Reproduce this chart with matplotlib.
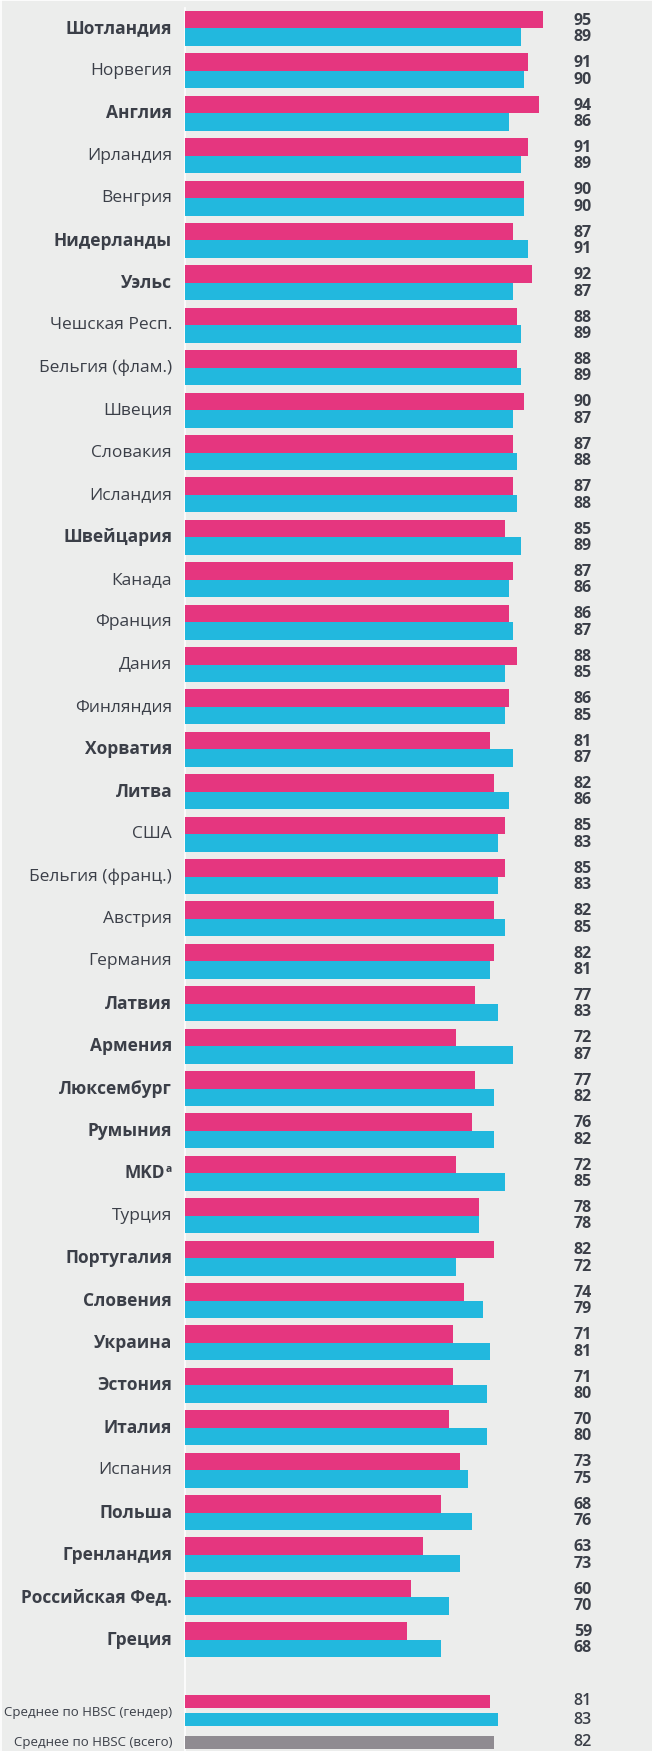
import matplotlib
matplotlib.use("Agg")
import matplotlib.pyplot as plt
from matplotlib.lines import Line2D

countries = ["Шотландия", "Норвегия", "Англия", "Ирландия", "Венгрия", "Нидерланды", "Уэльс",
             "Чешская Респ.", "Бельгия (флам.)", "Швеция", "Словакия", "Исландия", "Швейцария",
             "Канада", "Франция", "Дания", "Финляндия", "Хорватия", "Литва", "США",
             "Бельгия (франц.)", "Австрия", "Германия", "Латвия", "Армения", "Люксембург",
             "Румыния", "MKD", "Турция", "Португалия", "Словения", "Украина", "Эстония",
             "Италия", "Испания", "Польша", "Гренландия", "Российская Фед.", "Греция"]
bold = [True, False, True, False, False, True, True,
        False, False, False, False, False, True,
        False, False, False, False, True, True, False,
        False, False, False, True, True, True,
        True, True, False, True, True, True, True,
        True, False, True, True, True, True]
girls = [95, 91, 94, 91, 90, 87, 92, 88, 88, 90, 87, 87, 85, 87, 86, 88, 86, 81, 82, 85,
         85, 82, 82, 77, 72, 77, 76, 72, 78, 82, 74, 71, 71, 70, 73, 68, 63, 60, 59]
boys = [89, 90, 86, 89, 90, 91, 87, 89, 89, 87, 88, 88, 89, 86, 87, 85, 85, 87, 86, 83,
        83, 85, 81, 83, 87, 82, 82, 85, 78, 72, 79, 81, 80, 80, 75, 76, 73, 70, 68]
avg_labels = ["Среднее по HBSC (гендер)", "Среднее по HBSC (всего)"]
avg_girls = 81
avg_boys = 83
avg_total = 82

PINK = "#E5367F"
BLUE = "#22B8DE"
GREY = "#8F8B91"
TEXT = "#3B3F48"
BG = "#ECEDEC"
fam = "Open Sans"

W, H = 652, 1751
scale = 3.77
x0 = 185
fig = plt.figure(figsize=(W / 100, H / 100), dpi=100, facecolor=BG)
ax = fig.add_axes([0, 0, 1, 1])
ax.set_facecolor(BG)
ax.set_xlim(-x0 / scale, (W - x0) / scale)
ax.set_ylim(H, 0)
ax.axis("off")

# thin white frame at top and left
fig.add_artist(Line2D([0, 1], [1 - 0.5 / H, 1 - 0.5 / H], color="white", lw=1.2,
                      transform=fig.transFigure))
fig.add_artist(Line2D([0.5 / W, 0.5 / W], [0, 1], color="white", lw=1.2,
                      transform=fig.transFigure))

ax.plot([0, 0], [8, H], color="white", lw=1.2, zorder=1)

pitch = 42.4
top0 = 11
bh = 17.5
lab_x = (172 - x0) / scale
val_x = (592 - x0) / scale

for i, (c, b, g, m) in enumerate(zip(countries, bold, girls, boys)):
    t = top0 + pitch * i
    yp = t + bh / 2
    yb = t + bh + bh / 2
    ax.barh(yp, g, height=bh, color=PINK, zorder=2)
    ax.barh(yb, m, height=bh, color=BLUE, zorder=2)
    w = "bold" if b else "normal"
    yc = t + bh
    if c == "MKD":
        ax.text(lab_x, yc - 4, "a", ha="right", va="center", fontsize=7.5,
                fontweight=w, color=TEXT, family=fam)
        ax.text(lab_x - 7 / scale, yc, c, ha="right", va="center", fontsize=12.5,
                fontweight=w, color=TEXT, family=fam)
    else:
        ax.text(lab_x, yc, c, ha="right", va="center", fontsize=12.5,
                fontweight=w, color=TEXT, family=fam)
    ax.text(val_x, yp + 1, str(g), ha="right", va="center", fontsize=11.5,
            fontweight="bold", color=TEXT, family=fam)
    ax.text(val_x, yb, str(m), ha="right", va="center", fontsize=11.5,
            fontweight="bold", color=TEXT, family=fam)

# averages
ax.barh(1701.5, avg_girls, height=13, color=PINK, zorder=2)
ax.barh(1719.5, avg_boys, height=13, color=BLUE, zorder=2)
ax.barh(1742.5, avg_total, height=13, color=GREY, zorder=2)
ax.text(lab_x, 1712, avg_labels[0], ha="right", va="center", fontsize=9.5,
        color=TEXT, family=fam)
ax.text(lab_x, 1742, avg_labels[1], ha="right", va="center", fontsize=9.5,
        color=TEXT, family=fam)
for yv, v in [(1701, avg_girls), (1720, avg_boys), (1742, avg_total)]:
    ax.text(val_x, yv, str(v), ha="right", va="center", fontsize=11.5,
            fontweight="semibold", color=TEXT, family=fam)

fig.savefig("out.png", dpi=100, facecolor=BG)
